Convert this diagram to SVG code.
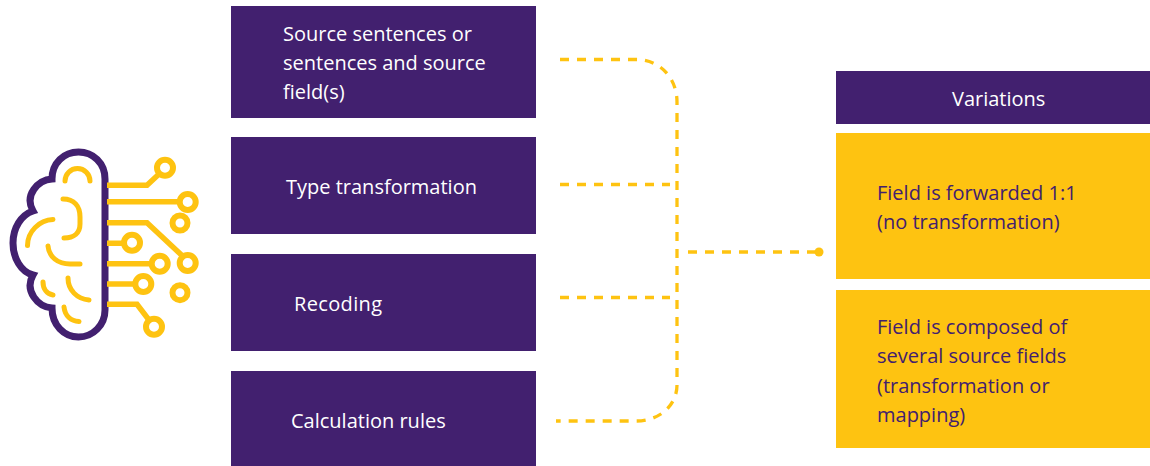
<svg xmlns="http://www.w3.org/2000/svg" width="1150" height="466" viewBox="0 0 1150 466">
<style>
.p{fill:#42206f}.y{fill:#fec311}
text{font-family:"Open Sans","Noto Sans",sans-serif;font-size:20px}
.w{fill:#fff}.d{fill:#42206f}
.dash{fill:none;stroke:#fec311;stroke-width:3.300;stroke-dasharray:9 8}
.b{fill:none;stroke:#42206f;stroke-width:7}
.c{fill:none;stroke:#fec311;stroke-width:5;stroke-linecap:round}
.t{fill:none;stroke:#fec311;stroke-width:5.500}
.r{fill:#fff;stroke:#fec311;stroke-width:6}
</style>
<g id="brain-icon">
<path class="b" d="M52 179C52 163 64 152 78.500 152C93 152 105 163 105 179V310C105 325 93 337 78.500 337C64 337 52 325 52 308C38 307 24 291 33 275C21 272 13 258 13 243C13 228 21 215 33 211C24 195 38 180 52 179Z"/>
<path class="c" d="M65 181A12.500 12.500 0 0 1 90 181M63 199C74 199 80 206 80 217V224C80 233 74 238 64 238M53 219.500C39 220 27.500 232 27.500 245.500M48 246C49 257 58 264 70 264H80M43 282C43 289 47 294 53 295M68 278C68 290 77 299 89 300M64 307C65 316 71 321 79 321.500"/>
<path class="t" d="M107 185.300H147L158 175M107 201.700H182M107 222.700H147L182 255.500M107 243.300H124M107 263.700H152M107 284H136M107 304.300H137L149 320"/>
<circle class="r" cx="165" cy="167.700" r="8"/>
<circle class="r" cx="187.700" cy="202" r="8"/>
<circle class="r" cx="180" cy="223" r="7.500"/>
<circle class="r" cx="132" cy="242.700" r="8"/>
<circle class="r" cx="159.700" cy="263.700" r="8"/>
<circle class="r" cx="187.700" cy="263" r="8"/>
<circle class="r" cx="143.300" cy="284" r="8"/>
<circle class="r" cx="180" cy="292.700" r="7.500"/>
<circle class="r" cx="154" cy="326.700" r="8"/>
</g>
<g id="connectors">
<path class="dash" d="M560 59.500H636C660 59.500 677 78 677 102V385C677 405 660 421 636 421H556"/>
<path class="dash" d="M560 184.500H670"/>
<path class="dash" d="M560 297.500H670"/>
<path class="dash" d="M688 252H815"/>
<circle class="y" cx="819" cy="252" r="4.500"/>
</g>
<g id="source"><rect class="p" x="231" y="6" width="305" height="112"/><text class="w" x="283" y="41">Source sentences or</text><text class="w" x="283" y="70">sentences and source</text><text class="w" x="283" y="99">field(s)</text></g>
<g id="type"><rect class="p" x="231" y="137" width="305" height="97"/><text class="w" x="286" y="194">Type transformation</text></g>
<g id="recoding"><rect class="p" x="231" y="254" width="305" height="97"/><text class="w" x="294" y="311" textLength="88">Recoding</text></g>
<g id="calc"><rect class="p" x="231" y="371" width="305" height="95"/><text class="w" x="291" y="428">Calculation rules</text></g>
<g id="variations"><rect class="p" x="836" y="71" width="314" height="53"/><text class="w" x="952" y="106">Variations</text></g>
<g id="forwarded"><rect class="y" x="836" y="133" width="314" height="146"/><text class="d" x="877" y="200">Field is forwarded 1:1</text><text class="d" x="877" y="229">(no transformation)</text></g>
<g id="composed"><rect class="y" x="836" y="290" width="314" height="158"/><text class="d" x="877" y="334">Field is composed of</text><text class="d" x="877" y="363">several source fields</text><text class="d" x="877" y="393">(transformation or</text><text class="d" x="877" y="422">mapping)</text></g>
</svg>
